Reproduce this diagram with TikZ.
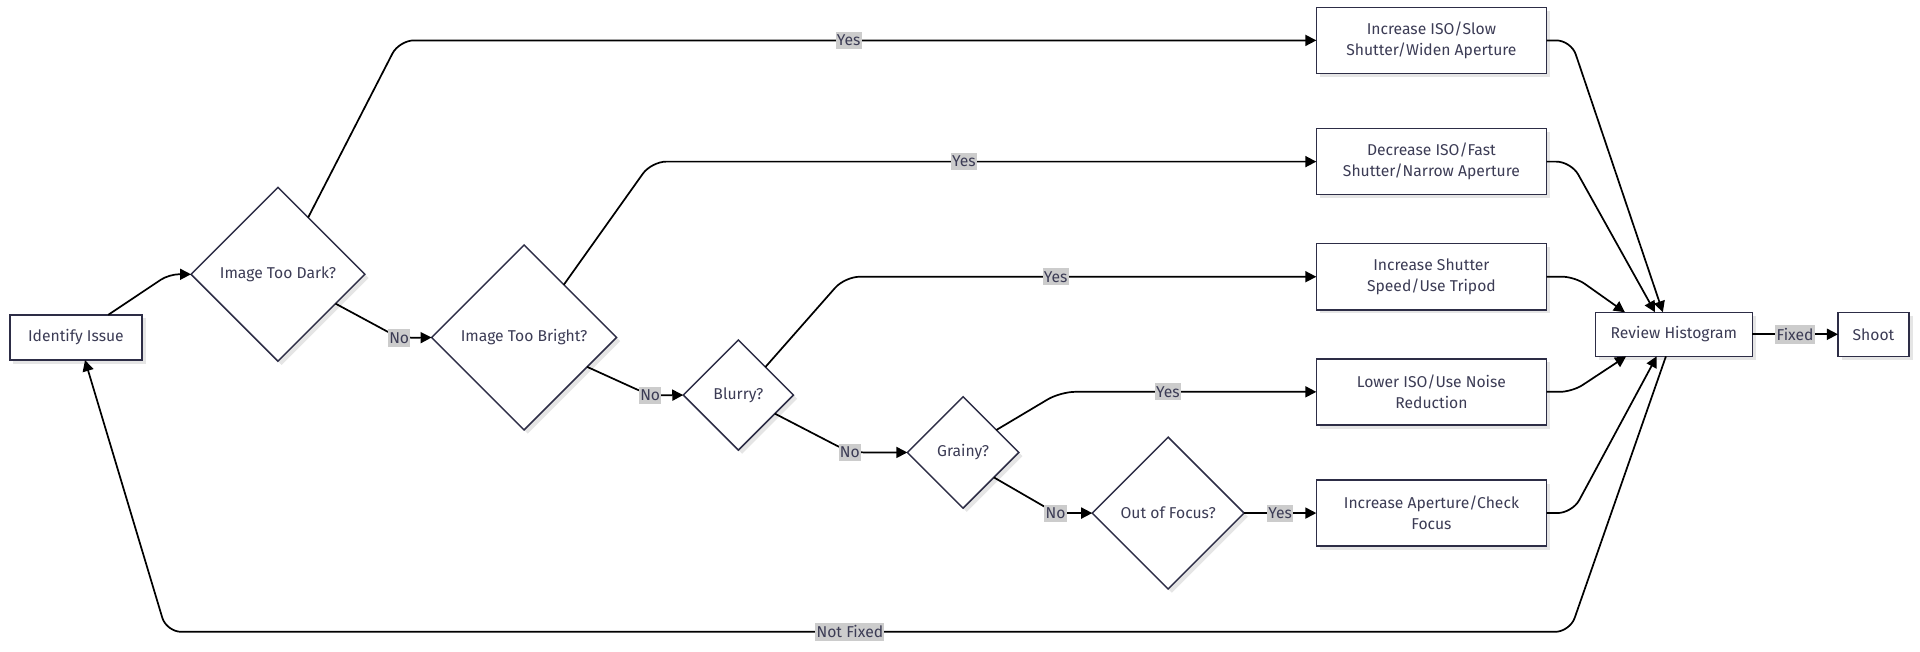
\documentclass[tikz,border=0pt]{standalone}
\usepackage{fontspec}
\setmainfont{Fira Sans}
\usetikzlibrary{shapes.geometric,arrows.meta,shadows}
\definecolor{nodeline}{RGB}{45,45,70}
\definecolor{txt}{RGB}{60,60,85}
\definecolor{labbg}{RGB}{204,204,204}
\begin{document}
\begin{tikzpicture}[x=1pt,y=-1pt,
  every node/.style={font=\fontsize{12.8}{17}\selectfont, text=txt},
  shad/.style={drop shadow={shadow xshift=3pt,shadow yshift=-3pt,fill=black!10,opacity=1}},
  box/.style={draw=nodeline, line width=1.2pt, fill=white, shad, rectangle, align=center, inner sep=0pt, outer sep=0pt},
  dia/.style={draw=nodeline, line width=1.2pt, fill=white, shad, diamond, aspect=1, inner sep=0pt, outer sep=0pt},
  conn/.style={draw=black, line width=1.4pt, -{Triangle[length=9pt,width=9pt]}, rounded corners=12pt},
  lab/.style={fill=labbg, sharp corners, inner xsep=1pt, inner ysep=2.5pt, text=txt}
]
\useasboundingbox (0,0) rectangle (1568,531.7);

\node[box, minimum width=108pt, minimum height=37pt] (ident) at (62,275.6) {Identify Issue};
\node[dia, minimum width=142pt, minimum height=142pt] (dark) at (227,224) {Image Too Dark?};
\node[dia, minimum width=151pt, minimum height=151pt] (bright) at (428,275.6) {Image Too Bright?};
\node[dia, minimum width=90pt, minimum height=90pt] (blurry) at (603,322.6) {Blurry?};
\node[dia, minimum width=91pt, minimum height=91pt] (grainy) at (786.5,369.5) {Grainy?};
\node[dia, minimum width=124pt, minimum height=124pt] (oof) at (954,419) {Out of Focus?};

\node[box, minimum width=188pt, minimum height=54pt] (b1) at (1169,33) {Increase ISO/Slow\\Shutter/Widen Aperture};
\node[box, minimum width=188pt, minimum height=54pt] (b2) at (1169,132) {Decrease ISO/Fast\\Shutter/Narrow Aperture};
\node[box, minimum width=188pt, minimum height=54pt] (b3) at (1169,226) {Increase Shutter\\Speed/Use Tripod};
\node[box, minimum width=188pt, minimum height=54pt] (b4) at (1169,320) {Lower ISO/Use Noise\\Reduction};
\node[box, minimum width=188pt, minimum height=54pt] (b5) at (1169,419) {Increase Aperture/Check\\Focus};

\node[box, minimum width=128pt, minimum height=36pt] (review) at (1367,273) {Review Histogram};
\node[box, minimum width=58pt, minimum height=36pt] (shoot) at (1530,273) {Shoot};

\draw[conn, rounded corners=8pt] (ident.35) -- (138,224) -- (dark.west);
\draw[conn] (dark.62) -- (326,33) -- node[lab,pos=0.49]{Yes} (b1.west);
\draw[conn] (dark.-27) -- (326,276) node[lab]{No} -- (bright.west);
\draw[conn] (bright.53.5) -- (532,132) -- node[lab,pos=0.47]{Yes} (b2.west);
\draw[conn] (bright.-25) -- (531,323) node[lab]{No} -- (blurry.west);
\draw[conn] (blurry.46) -- (690,226) -- node[lab,pos=0.447]{Yes} (b3.west);
\draw[conn] (blurry.-27) -- (694,369.5) node[lab]{No} -- (grainy.west);
\draw[conn] (grainy.34) -- (866,320) -- node[lab,pos=0.42]{Yes} (b4.west);
\draw[conn] (grainy.-39.5) -- (862,419) node[lab]{No} -- (oof.west);
\draw[conn] (oof.east) -- node[lab]{Yes} (b5.west);

\draw[conn] (b1.east) -- (1283,33) -- ([xshift=-9pt]review.north);
\draw[conn] (b2.east) -- (1283,132) -- ([xshift=-15.4pt]review.north);
\draw[conn, rounded corners=10pt] (b3.east) -- (1286,226) -- ([xshift=-40pt]review.north);
\draw[conn, rounded corners=10pt] (b4.east) -- (1284,320) -- ([xshift=-39pt]review.south);
\draw[conn] (b5.east) -- (1284,419) -- ([xshift=-14pt]review.south);

\draw[conn] (review.east) -- node[lab]{Fixed} (shoot.west);
\draw[conn] ([xshift=-6.5pt]review.south) -- (1282,516) -- node[lab,pos=0.513]{Not Fixed} (136,516) -- ([xshift=7.4pt]ident.south);
\end{tikzpicture}
\end{document}
